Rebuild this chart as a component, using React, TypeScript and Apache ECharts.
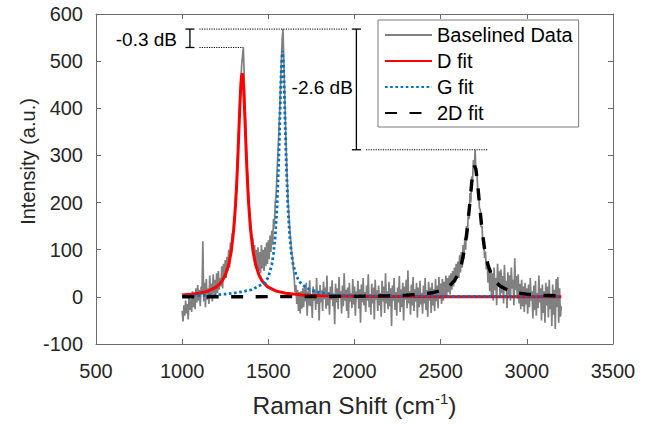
import React, { useEffect, useRef } from "react";
import * as echarts from "echarts";

// ---- data ----
const RAMAN_START = 1000; // cm^-1, first sample of the measured spectrum
const RAMAN_STEP = 5; // cm^-1 between samples

const baselinedIntensity = [
  -30, -52, -18, -40, -8, -35, -15, -48, 5, -28,
  -5, -32, 12, -22, 2, -26, 18, -12, 25, -8,
  15, -20, 22, 5, 118, -10, 30, -22, 38, -6,
  18, -15, 45, 2, 28, -10, 48, 8, 36, -2,
  50, 8, 55, 15, 40, 22, 65, 18, 70, 38,
  78, 40, 85, 55, 100, 62, 115, 90, 135, 125,
  165, 160, 215, 225, 285, 320, 375, 405, 455, 490,
  510, 529, 470, 400, 350, 285, 260, 210, 190, 165,
  150, 120, 125, 95, 110, 70, 100, 60, 105, 55,
  95, 50, 110, 60, 100, 55, 105, 65, 115, 70,
  120, 80, 130, 95, 140, 110, 165, 150, 200, 215,
  260, 300, 340, 385, 440, 490, 545, 568, 500, 430,
  360, 300, 245, 200, 170, 140, 120, 95, 85, 60,
  40, 10, 25, -15, 15, -30, 10, -35, 12, -25,
  18, -22, 25, -10, 30, -40, 12, -18, 35, -20,
  5, -45, 22, -8, 15, -28, 40, -15, 8, -50,
  25, -12, 14, -30, 32, -5, 20, -25, 45, -18,
  10, -38, 22, -6, 35, -20, 5, -58, 28, -12,
  18, -26, 42, -2, 12, -35, 24, -20, 50, -8,
  15, -30, 20, -45, 30, -10, 8, -24, 38, -16,
  22, -40, 12, -5, 34, -25, 16, -55, 26, -12,
  40, -18, 10, -32, 24, -8, 48, -22, 6, -38,
  28, -14, 20, -48, 36, -6, 14, -30, 24, -18,
  8, -42, 34, -10, 22, -34, 50, -14, 12, -26,
  32, -20, 18, -62, 24, -8, 40, -28, 10, -40,
  20, -12, 44, -32, 16, -22, 30, -50, 22, -6,
  36, -24, 56, -14, 12, -38, 26, -18, 42, -30,
  16, -10, 30, -44, 20, -22, 34, -16, 8, -36,
  24, -14, 40, -28, 14, -42, 32, -8, 20, -34,
  30, -18, 16, -30, 38, -10, 24, -24, 42, -4,
  28, -15, 38, -8, 32, -2, 45, 2, 40, 10,
  45, 5, 50, 15, 55, 22, 62, 30, 70, 38,
  75, 40, 88, 52, 95, 62, 110, 80, 125, 100,
  150, 125, 180, 165, 220, 200, 255, 245, 290, 272,
  312, 262, 268, 228, 225, 188, 185, 148, 150, 112,
  118, 82, 96, 58, 72, 30, 66, 12, 58, 2,
  50, -8, 62, 14, 40, -18, 70, 22, 54, 0,
  58, 8, 44, -14, 68, 18, 34, -24, 52, 4,
  46, -8, 62, 18, 36, -18, 82, 14, 44, -4,
  48, -14, 28, -26, 36, -20, 22, -32, 30, -16,
  18, -36, 26, -22, 40, -8, 12, -46, 24, -28,
  34, -40, 8, -24, 45, -12, 18, -50, 26, -34,
  12, -55, 30, -18, 22, -44, 36, -26, 6, -62,
  26, -38, 15, -68, 38, -22, 42, -55, 18, -42,
  -20,
];

const dFitShift = [1000, 1050, 1100, 1150, 1200, 1230, 1250, 1270, 1285, 1300, 1310, 1315, 1320, 1325, 1330, 1335, 1340, 1344, 1348, 1352, 1356, 1361, 1366, 1371, 1376, 1381, 1386, 1396, 1411, 1426, 1446, 1466, 1496, 1546, 1600, 1700, 1800, 2000, 2500, 3200];
const dFitIntensity = [4.0, 5.4, 7.8, 12.1, 21.2, 32.5, 45.7, 68.3, 97.2, 145.8, 196.7, 229.7, 268.4, 312.5, 360.2, 406.9, 446.1, 466.7, 474, 466.7, 446.1, 406.9, 360.2, 312.5, 268.4, 229.7, 196.7, 145.8, 97.2, 68.3, 45.7, 32.5, 21.2, 12.1, 7.5, 3.9, 2.4, 1.1, 0.4, 0.1];

const gFitShift = [1000, 1100, 1200, 1250, 1300, 1350, 1400, 1423, 1450, 1481, 1500, 1520, 1530, 1540, 1550, 1560, 1566, 1570, 1576, 1582, 1588, 1594, 1598, 1604, 1614, 1624, 1634, 1644, 1664, 1684, 1700, 1742, 1800, 1877, 2000, 2500, 3200];
const gFitIntensity = [2, 3, 4, 6, 8, 11, 15, 19, 24, 30, 42, 68, 92, 128, 188, 284, 361, 418, 491, 522, 491, 418, 361, 284, 188, 128, 92, 68, 43, 31, 25, 15, 9, 4, 2.5, 1, 0.5];

const twoDFitShift = [1000, 1500, 2000, 2200, 2300, 2400, 2450, 2500, 2550, 2580, 2600, 2620, 2640, 2655, 2670, 2680, 2690, 2697, 2704, 2714, 2724, 2739, 2754, 2774, 2794, 2814, 2844, 2894, 2944, 3000, 3100, 3200];
const twoDFitIntensity = [0.2, 0.4, 1.1, 2.2, 3.4, 6.0, 8.6, 13.2, 22.9, 34.4, 47.4, 68.4, 103.8, 145.5, 201.9, 241.9, 271.1, 278, 271.1, 241.9, 201.9, 145.5, 103.8, 68.4, 47.4, 34.4, 22.9, 13.2, 8.6, 5.7, 3.3, 2.1];

const seriesNames = ["Baselined Data", "D fit", "G fit", "2D fit"];

// annotation levels (peak maxima of the measured data) and their guide lines
const gPeakMax = 568;
const dPeakMax = 529;
const twoDPeakMax = 312;
const annotationLabels = ["-0.3 dB", "-2.6 dB"];

const FONT = '"Liberation Sans", Arial, Helvetica, sans-serif';
const AXIS_COLOR = "#6b6b6b";
const TEXT_COLOR = "#262626";

function zip(xs: number[], ys: number[]) {
  return xs.map((x, i) => [x, ys[i]]);
}

export default function App() {
  const ref = useRef<HTMLDivElement>(null);

  useEffect(() => {
    if (!ref.current) return;
    const chart = echarts.init(ref.current, undefined, { renderer: "svg" });

    const measured = baselinedIntensity.map((v, i) => [RAMAN_START + i * RAMAN_STEP, v]);

    const baseAxis = {
      type: "value" as const,
      axisLine: { show: true, onZero: false, lineStyle: { color: AXIS_COLOR, width: 1 } },
      axisTick: { show: true, inside: true, length: 5, lineStyle: { color: AXIS_COLOR, width: 1 } },
      splitLine: { show: false },
    };
    const plain = (v: number) => String(v);

    chart.setOption({
      animation: false,
      backgroundColor: "#ffffff",
      grid: { left: 96, right: 35, top: 14, bottom: 79, containLabel: false },
      xAxis: [
        {
          ...baseAxis,
          position: "bottom",
          min: 500,
          max: 3500,
          interval: 500,
          axisLabel: { fontSize: 20, color: TEXT_COLOR, fontFamily: FONT, margin: 17, formatter: plain },
          name: "Raman Shift (cm{sup|-1})",
          nameLocation: "middle",
          nameGap: 47,
          nameTextStyle: {
            fontSize: 24.5,
            color: TEXT_COLOR,
            fontFamily: FONT,
            lineHeight: 28,
            rich: {
              sup: { fontSize: 15, color: TEXT_COLOR, fontFamily: FONT, verticalAlign: "top", lineHeight: 13 },
            },
          },
        },
        {
          ...baseAxis,
          position: "top",
          min: 500,
          max: 3500,
          interval: 500,
          axisLabel: { show: false },
        },
      ],
      yAxis: [
        {
          ...baseAxis,
          position: "left",
          min: -100,
          max: 600,
          interval: 100,
          axisLabel: { fontSize: 20, color: TEXT_COLOR, fontFamily: FONT, margin: 13, formatter: plain },
        },
        {
          ...baseAxis,
          position: "right",
          min: -100,
          max: 600,
          interval: 100,
          axisLabel: { show: false },
        },
      ],
      legend: {
        data: seriesNames,
        orient: "vertical",
        left: 378,
        top: 20,
        padding: [5, 6, 4, 6],
        itemWidth: 47,
        itemHeight: 14,
        itemGap: 6,
        backgroundColor: "#ffffff",
        borderColor: "#7a7a7a",
        borderWidth: 1,
        borderRadius: 0,
        itemStyle: { color: "rgba(0,0,0,0)", borderColor: "rgba(0,0,0,0)", borderWidth: 0 },
        textStyle: { fontSize: 20, color: "#000000", fontFamily: FONT },
      },
      series: [
        {
          name: seriesNames[0],
          type: "line",
          data: measured,
          symbol: "none",
          lineStyle: { color: "#808080", width: 1.7 },
          itemStyle: { color: "#808080" },
          z: 1,
        },
        {
          name: seriesNames[1],
          type: "line",
          data: zip(dFitShift, dFitIntensity),
          symbol: "none",
          lineStyle: { color: "#ff0000", width: 3 },
          itemStyle: { color: "#ff0000" },
          z: 2,
        },
        {
          name: seriesNames[2],
          type: "line",
          data: zip(gFitShift, gFitIntensity),
          symbol: "none",
          lineStyle: { color: "#0072bd", width: 2.8, type: [2.6, 2.6] },
          itemStyle: { color: "#0072bd" },
          z: 3,
        },
        {
          name: seriesNames[3],
          type: "line",
          data: zip(twoDFitShift, twoDFitIntensity),
          symbol: "none",
          lineStyle: { color: "#000000", width: 3.4, type: [12, 12.5] },
          itemStyle: { color: "#000000" },
          z: 4,
        },
      ],
    });

    const p = (x: number, y: number) => chart.convertToPixel({ gridIndex: 0 }, [x, y]) as number[];
    const dotted = { stroke: "#000000", lineWidth: 1, lineDash: [1.2, 1.2] };
    const solid = { stroke: "#000000", lineWidth: 1.3 };
    const hline = (x1: number, x2: number, y: number, style: any) => {
      const a = p(x1, y);
      const b = p(x2, y);
      return { type: "line", shape: { x1: a[0], y1: a[1], x2: b[0], y2: b[1] }, style, z: 100 };
    };
    const bracket = (x: number, yTop: number, yBottom: number) => {
      const a = p(x, yTop);
      const b = p(x, yBottom);
      const half = 4.5;
      return [
        { type: "line", shape: { x1: a[0], y1: a[1], x2: b[0], y2: b[1] }, style: solid, z: 100 },
        { type: "line", shape: { x1: a[0] - half, y1: a[1], x2: a[0] + half, y2: a[1] }, style: solid, z: 100 },
        { type: "line", shape: { x1: b[0] - half, y1: b[1], x2: b[0] + half, y2: b[1] }, style: solid, z: 100 },
      ];
    };
    const t1 = p(970, 546);
    const t2 = p(1635, 444);

    chart.setOption({
      graphic: [
        hline(1100, 1957, gPeakMax, dotted),
        hline(1100, 1355, dPeakMax, dotted),
        hline(2067, 2773, twoDPeakMax, dotted),
        ...bracket(1045, gPeakMax, dPeakMax),
        ...bracket(2011, gPeakMax, twoDPeakMax),
        {
          type: "text",
          x: t1[0],
          y: t1[1],
          z: 100,
          style: { text: annotationLabels[0], fontSize: 19, fontFamily: FONT, fill: "#000000", align: "right", verticalAlign: "middle" },
        },
        {
          type: "text",
          x: t2[0],
          y: t2[1],
          z: 100,
          style: { text: annotationLabels[1], fontSize: 19, fontFamily: FONT, fill: "#000000", align: "left", verticalAlign: "middle" },
        },
        {
          type: "text",
          x: 27.5,
          y: 161.5,
          rotation: Math.PI / 2,
          z: 100,
          style: { text: "Intensity (a.u.)", fontSize: 20, fontFamily: FONT, fill: TEXT_COLOR, align: "center", verticalAlign: "middle" },
        },
      ],
    });

    return () => chart.dispose();
  }, []);

  return (
    <div
      ref={ref}
      style={{ position: "fixed", left: 0, top: 0, width: 648, height: 424, background: "#ffffff" }}
    />
  );
}
